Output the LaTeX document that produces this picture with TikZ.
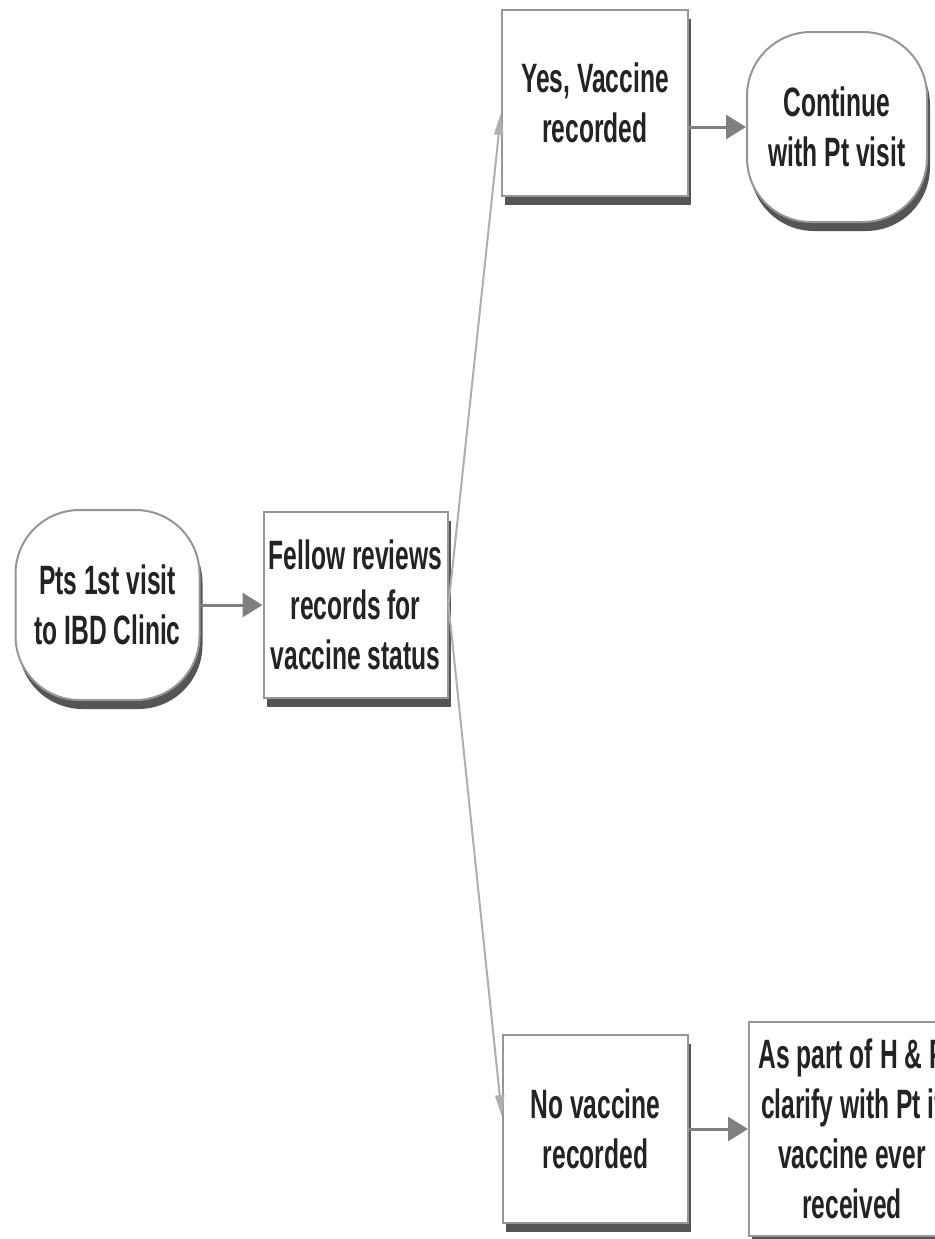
\documentclass[tikz,border=0pt]{standalone}
\usepackage{fontspec}
\setmainfont{Liberation Sans}[FakeStretch=0.6]
\usepackage{xcolor}
\usepackage{tikz}
\usetikzlibrary{shapes.geometric, arrows.meta, positioning, shadows}
\definecolor{boxline}{RGB}{150,150,150}
\definecolor{shadowgray}{RGB}{85,85,85}
\definecolor{arrowgray}{RGB}{128,128,128}
\definecolor{thingray}{RGB}{175,175,175}
\definecolor{textdark}{RGB}{35,35,35}
\tikzset{
  block/.style={rectangle, draw=boxline, line width=1pt, fill=white,
    minimum width=92pt, minimum height=93pt, align=center, inner sep=2pt,
    text=textdark, font=\fontsize{20.5}{25}\selectfont\bfseries,
    drop shadow={shadow xshift=1.5pt, shadow yshift=-4.5pt, fill=shadowgray, opacity=1}},
  termblock/.style={block, rounded corners=32pt, minimum height=95pt},
  arrow/.style={-{Triangle[length=10pt, width=12pt]}, line width=1.5pt, color=arrowgray},
  thinarrow/.style={-{Triangle[length=11pt, width=4.5pt]}, line width=1pt, color=thingray},
}
\begin{document}
\begin{tikzpicture}[x=0.5pt, y=-0.5pt, node distance=31pt]
  \clip (0,0) rectangle (935,1239);
  \fill[white] (0,0) rectangle (935,1239);
  \node[termblock] (visit) at (107.5,605) {Pts 1st visit\\to IBD Clinic};
  \node[block, right=31pt of visit] (fellow) {Fellow reviews\\records for\\vaccine status};
  \node[block, minimum width=93pt] (yes) at (595,103) {Yes, Vaccine\\recorded};
  \node[termblock, minimum width=90pt] (cont) at (837,127) {Continue\\with Pt visit};
  \node[block, minimum width=92.5pt, minimum height=94pt] (novac) at (595.5,1129) {No vaccine\\recorded};
  \node[block, right=29.5pt of novac, minimum width=103pt, minimum height=107pt,
        drop shadow={opacity=0}] (clarify)
    {As part of H \& P\\clarify with Pt if\\vaccine ever\\received};
  \draw[arrow] (visit) -- (fellow);
  \draw[thinarrow] (fellow.east) -- ([yshift=-5pt]yes.west);
  \draw[thinarrow] (fellow.east) -- ([yshift=6pt]novac.west);
  \draw[arrow] (yes.east |- cont) -- (cont.west);
  \draw[arrow] (novac) -- (clarify);
\end{tikzpicture}
\end{document}
